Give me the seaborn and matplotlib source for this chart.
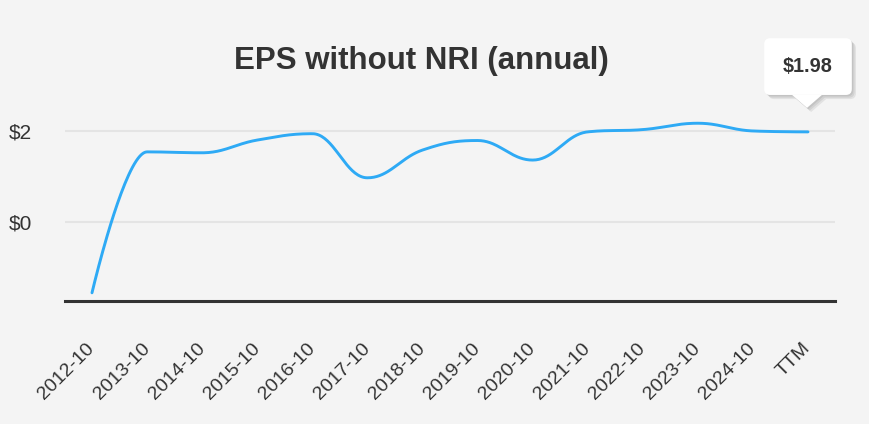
import numpy as np
import pandas as pd
import matplotlib
matplotlib.use("Agg")
import matplotlib.pyplot as plt
import matplotlib.patheffects as pe
import matplotlib.transforms as mtransforms
from matplotlib.patches import Polygon
import seaborn as sns

# ---- dados ----
periodos = ["2012-10", "2013-10", "2014-10", "2015-10", "2016-10", "2017-10", "2018-10",
            "2019-10", "2020-10", "2021-10", "2022-10", "2023-10", "2024-10", "TTM"]
eps = [-1.56, 1.54, 1.52, 1.80, 1.94, 0.97, 1.58, 1.79, 1.36, 1.98, 2.03, 2.17, 2.00, 1.98]
yticks = [0, 2]
ytick_labels = ["$0", "$2"]
titulo = "EPS without NRI (annual)"
tooltip = "$1.98"

BG = "#f4f4f4"
LINHA = "#2eaaf5"


def spline_highcharts(xs, ys, smoothing=1.5, n=40):
    """curva suave no estilo 'spline' (control points como no Highcharts)"""
    k = len(xs)
    lc = [(xs[i], ys[i]) for i in range(k)]
    rc = [(xs[i], ys[i]) for i in range(k)]
    den = smoothing + 1
    for i in range(1, k - 1):
        px, py = xs[i], ys[i]
        lx, ly = xs[i - 1], ys[i - 1]
        nx, ny = xs[i + 1], ys[i + 1]
        lcx = (smoothing * px + lx) / den
        lcy = (smoothing * py + ly) / den
        rcx = (smoothing * px + nx) / den
        rcy = (smoothing * py + ny) / den
        corr = ((rcy - lcy) * (rcx - px)) / (rcx - lcx) + py - rcy
        lcy += corr
        rcy += corr
        if lcy > ly and lcy > py:
            lcy = max(ly, py); rcy = 2 * py - lcy
        elif lcy < ly and lcy < py:
            lcy = min(ly, py); rcy = 2 * py - lcy
        if rcy > ny and rcy > py:
            rcy = max(ny, py); lcy = 2 * py - rcy
        elif rcy < ny and rcy < py:
            rcy = min(ny, py); lcy = 2 * py - rcy
        lc[i] = (lcx, lcy)
        rc[i] = (rcx, rcy)
    out_x, out_y = [], []
    t = np.linspace(0, 1, n)
    for i in range(1, k):
        p0 = np.array([xs[i - 1], ys[i - 1]])
        p1 = np.array(rc[i - 1])
        p2 = np.array(lc[i])
        p3 = np.array([xs[i], ys[i]])
        b = ((1 - t) ** 3)[:, None] * p0 + (3 * (1 - t) ** 2 * t)[:, None] * p1 \
            + (3 * (1 - t) * t ** 2)[:, None] * p2 + (t ** 3)[:, None] * p3
        out_x.extend(b[:, 0]); out_y.extend(b[:, 1])
    return np.array(out_x), np.array(out_y)


pos = np.arange(len(periodos))
sx, sy = spline_highcharts(pos, eps)
df_curva = pd.DataFrame({"x": sx, "y": sy})

sns.set_theme(style="white")
plt.rcParams["font.family"] = ["Liberation Sans", "DejaVu Sans"]

fig = plt.figure(figsize=(8.69, 4.24), dpi=100, facecolor=BG)
ax = fig.add_axes([65 / 869, 1 - 301 / 424, 770 / 869, (301 - 85.5) / 424])
ax.set_facecolor(BG)

for yv in yticks:
    ax.axhline(yv, color="#e4e4e4", lw=1.5, zorder=0)

sns.lineplot(data=df_curva, x="x", y="y", sort=False, color=LINHA, lw=2.1, ax=ax)

ax.set_xlim(-0.49, len(periodos) - 0.51)
ax.set_ylim(-1.74, 3.0)
# rótulos levemente deslocados para a direita (como no original)
ax.set_xticks(pos + 0.11)
ax.set_xticklabels(periodos, rotation=45, ha="right", fontsize=14, color="#333333")
ax.set_yticks(yticks)
ax.set_yticklabels(ytick_labels, fontsize=15, color="#333333")
ax.tick_params(axis="x", length=0, pad=28)
ax.tick_params(axis="y", length=0, pad=24)
ax.set_xlabel("")
ax.set_ylabel("")
for lado in ["top", "right", "left"]:
    ax.spines[lado].set_visible(False)
ax.spines["bottom"].set_color("#333333")
ax.spines["bottom"].set_linewidth(2.2)

fig.text(421.5 / 869, 1 - 61 / 424, titulo, ha="center", va="center",
         fontsize=22.5, fontweight="bold", color="#333333")

# tooltip no último ponto
sombra = [pe.SimplePatchShadow(offset=(o, -o), shadow_rgbFace="#000000", alpha=0.07)
          for o in (1, 2, 3)] + [pe.Normal()]
tip = ax.annotate(tooltip, xy=(pos[-1], eps[-1]), xytext=(0, 47), textcoords="offset points",
                  ha="center", va="center", fontsize=14.3, fontweight="bold", color="#333333",
                  bbox=dict(boxstyle="round,pad=0.95,rounding_size=0.3", fc="white", ec="none"),
                  zorder=10, annotation_clip=False)
tip.get_bbox_patch().set_path_effects(sombra)

px_pt = ax.transData.transform((pos[-1], eps[-1]))
seta = Polygon([(-16, 37), (14, 37), (-1, 24)], closed=True, fc="white", ec="none",
               transform=mtransforms.Affine2D().translate(*px_pt), zorder=11, clip_on=False)
seta.set_path_effects([pe.SimplePatchShadow(offset=(o, -o), shadow_rgbFace="#000000", alpha=0.07)
                       for o in (1, 2, 3)] + [pe.Normal()])
fig.add_artist(seta)

fig.savefig("out.png", dpi=100, facecolor=BG)
